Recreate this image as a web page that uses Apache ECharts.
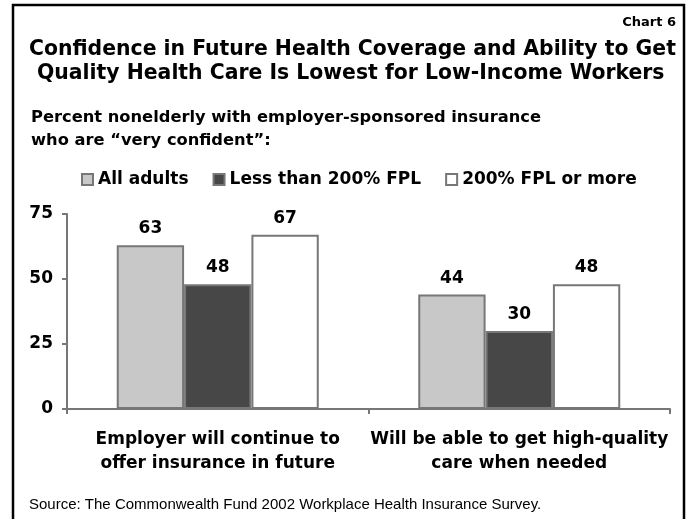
<!DOCTYPE html>
<html>
<head>
<meta charset="utf-8">
<script src="https://cdn.jsdelivr.net/npm/echarts@6/dist/echarts.min.js"></script>
<style>
  html, body { margin: 0; padding: 0; background: #fff; }
  #chart { width: 693px; height: 519px; }
</style>
</head>
<body>
<div id="chart"></div>
<script>
// data
var categories = [
  "Employer will continue to\noffer insurance in future",
  "Will be able to get high-quality\ncare when needed"
];
var seriesNames = ["All adults", "Less than 200% FPL", "200% FPL or more"];
var allAdults = [63, 44];
var lowIncome = [48, 30];
var higherIncome = [67, 48];
var yTicks = [0, 25, 50, 75];

var heavy = "'DejaVu Sans', sans-serif";
var arial = "'Liberation Sans', Arial, sans-serif";

var chart = echarts.init(document.getElementById("chart"));

function barSeries(name, data, fill) {
  return {
    name: name,
    type: "bar",
    data: data,
    barGap: "0%",
    barCategoryGap: "33%",
    itemStyle: {
      color: fill,
      borderColor: "#777",
      borderWidth: 2
    },
    label: {
      show: true,
      position: "top",
      distance: 8,
      color: "#000",
      fontFamily: heavy,
      fontWeight: "bold",
      fontSize: 17
    }
  };
}

var titleStyle = { fontFamily: heavy, fontWeight: "bold", fontSize: 20.4, color: "#000" };

var option = {
  backgroundColor: "#fff",
  animation: false,
  title: [
    {
      text: "Chart 6",
      right: 12,
      top: 11,
      textStyle: { fontFamily: heavy, fontWeight: "bold", fontSize: 13, color: "#000" }
    },
    {
      text: "Confidence in Future Health Coverage and Ability to Get",
      left: 24,
      top: 35,
      textStyle: titleStyle
    },
    {
      text: "Quality Health Care Is Lowest for Low-Income Workers",
      left: 32,
      top: 59,
      textStyle: titleStyle
    },
    {
      text: "Percent nonelderly with employer-sponsored insurance\nwho are \u201cvery confident\u201d:",
      left: 26,
      top: 101,
      textStyle: { fontFamily: heavy, fontWeight: "bold", fontSize: 16.3, lineHeight: 23, color: "#000" }
    },
    {
      text: "Source: The Commonwealth Fund 2002 Workplace Health Insurance Survey.",
      left: 24,
      top: 492,
      textStyle: { fontFamily: arial, fontWeight: "normal", fontSize: 15, color: "#000" }
    }
  ],
  legend: {
    left: 76,
    top: 166,
    itemWidth: 11,
    itemHeight: 11,
    itemGap: 24,
    icon: "rect",
    textStyle: { fontFamily: heavy, fontWeight: "bold", fontSize: 17, color: "#000" },
    data: seriesNames
  },
  grid: { left: 67, right: 23, top: 214, bottom: 110 },
  xAxis: {
    type: "category",
    data: categories,
    axisLine: { lineStyle: { color: "#777", width: 2 } },
    axisTick: { show: true, length: 5, lineStyle: { color: "#777", width: 2 } },
    axisLabel: {
      margin: 19,
      interval: 0,
      color: "#000",
      fontFamily: heavy,
      fontWeight: "bold",
      fontSize: 17,
      lineHeight: 24
    }
  },
  yAxis: {
    type: "value",
    min: 0,
    max: 75,
    interval: 25,
    splitLine: { show: false },
    axisLine: { show: true, lineStyle: { color: "#777", width: 2 } },
    axisTick: { show: true, length: 5, lineStyle: { color: "#777", width: 2 } },
    axisLabel: {
      margin: 14,
      color: "#000",
      fontFamily: heavy,
      fontWeight: "bold",
      fontSize: 17,
      formatter: function (v) { return yTicks.indexOf(v) >= 0 ? String(v) : ""; }
    }
  },
  series: [
    barSeries(seriesNames[0], allAdults, "#c8c8c8"),
    barSeries(seriesNames[1], lowIncome, "#474747"),
    barSeries(seriesNames[2], higherIncome, "#ffffff")
  ],
  graphic: [
    {
      type: "rect",
      shape: { x: 13, y: 5, width: 671, height: 530 },
      style: { fill: "none", stroke: "#000", lineWidth: 2.5 },
      silent: true
    }
  ]
};

chart.setOption(option);
</script>
</body>
</html>
